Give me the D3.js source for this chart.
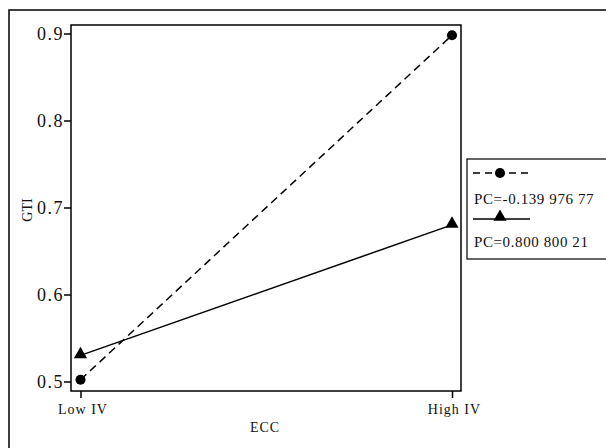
<!DOCTYPE html>
<html><head><meta charset="utf-8">
<script src="https://cdn.jsdelivr.net/npm/d3@7"></script>
<style>body{margin:0;background:#fff}svg{display:block}</style>
</head><body>
<script>
const categories = ["Low IV", "High IV"];
const seriesNames = ["PC=-0.139 976 77", "PC=0.800 800 21"];
const seriesCircle = [0.502, 0.898];
const seriesTriangle = [0.530, 0.680];
const yTicks = [0.5, 0.6, 0.7, 0.8, 0.9];
const xTitle = "ECC", yTitle = "GTI";

const W = 606, H = 448;
const svg = d3.select("body").append("svg").attr("width", W).attr("height", H);
const font = "'Liberation Serif','Times New Roman',Times,serif";

// outer frame
svg.append("rect").attr("x", 9).attr("y", 10).attr("width", 700).attr("height", 600)
  .attr("fill", "none").attr("stroke", "#000").attr("stroke-width", 1.5);

const L = 71, T = 25, R = 461, B = 391;
const x = d3.scalePoint().domain(categories).range([80.5, 452]);
const y = d3.scaleLinear().domain([0.5, 0.9]).range([381.5, 33.5]);

// plot frame
svg.append("rect").attr("x", L).attr("y", T).attr("width", R - L).attr("height", B - T)
  .attr("fill", "none").attr("stroke", "#000").attr("stroke-width", 1.5);

const yAxis = svg.append("g").attr("transform", `translate(${L},0)`)
  .call(d3.axisLeft(y).tickValues(yTicks).tickSize(7).tickSizeOuter(0).tickFormat(d3.format(".1f")));
yAxis.select(".domain").remove();
yAxis.selectAll("text").attr("font-family", font).attr("font-size", 18).attr("letter-spacing", 1.5)
  .attr("fill", "#111").attr("x", -7);
yAxis.selectAll("line").attr("stroke-width", 1.5);

const xAxis = svg.append("g").attr("transform", `translate(0,${B})`)
  .call(d3.axisBottom(x).tickSize(7).tickSizeOuter(0));
xAxis.select(".domain").remove();
xAxis.selectAll("text").attr("font-family", font).attr("font-size", 14).attr("letter-spacing", 1)
  .attr("fill", "#111").attr("y", 13).attr("dx", 2);
xAxis.selectAll("line").attr("stroke-width", 1.5);

svg.append("text").attr("x", 265).attr("y", 432).attr("text-anchor", "middle")
  .attr("font-family", font).attr("font-size", 14).attr("letter-spacing", 1).attr("fill", "#111").text(xTitle);
svg.append("text").attr("transform", "translate(32,210) rotate(-90)").attr("text-anchor", "middle")
  .attr("font-family", font).attr("font-size", 14).attr("fill", "#111").text(yTitle);

const line = d3.line().x((d, i) => x(categories[i])).y(d => y(d));
svg.append("path").datum(seriesCircle).attr("d", line).attr("fill", "none")
  .attr("stroke", "#000").attr("stroke-width", 1.5).attr("stroke-dasharray", "8,5");
svg.append("path").datum(seriesTriangle).attr("d", line).attr("fill", "none")
  .attr("stroke", "#000").attr("stroke-width", 1.5);

const circ = d3.symbol().type(d3.symbolCircle).size(80);
const tri = d3.symbol().type(d3.symbolTriangle).size(75);
svg.selectAll(".c").data(seriesCircle).join("path").attr("d", circ)
  .attr("transform", (d, i) => `translate(${x(categories[i])},${y(d)})`).attr("fill", "#000");
svg.selectAll(".t").data(seriesTriangle).join("path").attr("d", tri)
  .attr("transform", (d, i) => `translate(${x(categories[i])},${y(d) - 1})`).attr("fill", "#000");

// legend
const lg = svg.append("g");
lg.append("rect").attr("x", 467).attr("y", 159).attr("width", 200).attr("height", 100)
  .attr("fill", "#fff").attr("stroke", "#000").attr("stroke-width", 1.2);
lg.append("line").attr("x1", 473).attr("x2", 530).attr("y1", 173).attr("y2", 173)
  .attr("stroke", "#000").attr("stroke-width", 1.5).attr("stroke-dasharray", "7,5");
lg.append("path").attr("d", circ).attr("transform", "translate(500,173)").attr("fill", "#000");
lg.append("text").attr("x", 474).attr("y", 204).attr("font-family", font).attr("font-size", 15)
  .attr("letter-spacing", 0.6).attr("fill", "#111").text(seriesNames[0]);
lg.append("line").attr("x1", 473).attr("x2", 530).attr("y1", 219).attr("y2", 219)
  .attr("stroke", "#000").attr("stroke-width", 1.5);
lg.append("path").attr("d", tri).attr("transform", "translate(500,217)").attr("fill", "#000");
lg.append("text").attr("x", 474).attr("y", 247).attr("font-family", font).attr("font-size", 15)
  .attr("letter-spacing", 0.6).attr("fill", "#111").text(seriesNames[1]);
</script>
</body></html>
